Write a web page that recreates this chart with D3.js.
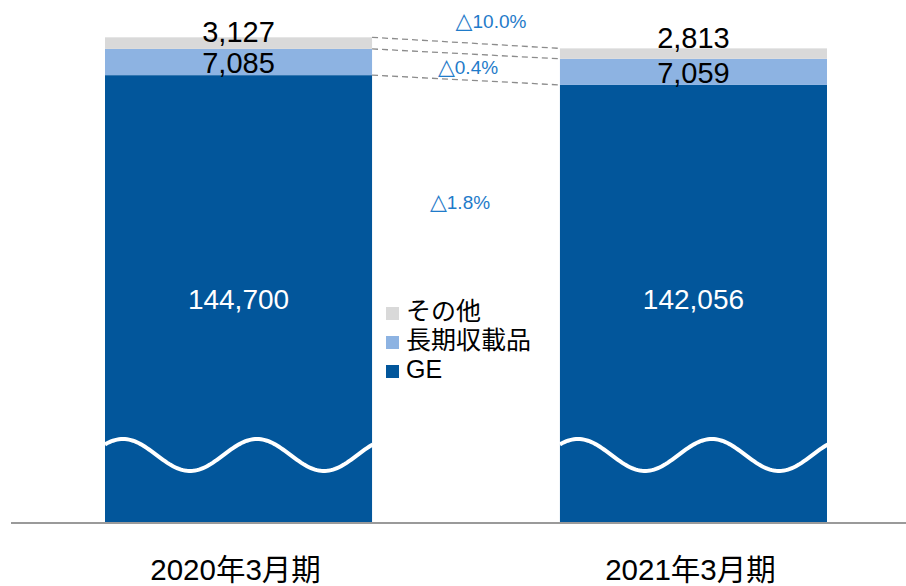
<!DOCTYPE html>
<html>
<head>
<meta charset="utf-8">
<script src="https://cdnjs.cloudflare.com/ajax/libs/d3/7.8.5/d3.min.js"></script>
<style>
  body { margin: 0; background: #fff; }
  text { font-family: "Liberation Sans", Arial, "Noto Sans CJK JP", sans-serif; }
</style>
</head>
<body>
<div id="chart"></div>
<script>
// data
const periods = ["2020年3月期", "2021年3月期"]
const series = ["GE", "長期収載品", "その他"]
const ge_values = [144700, 142056]
const long_listed_values = [7085, 7059]
const other_values = [3127, 2813]
const legend_order = ["その他", "長期収載品", "GE"]

// constants
const width = 906
const height = 586
const baseline = 522
const value_min = 24000   // truncated axis (wave marks the break)
const value_max = 160000
const colors = { "GE": "#02569b", "長期収載品": "#8db3e2", "その他": "#d9d9d9" }
const delta_color = "#1f7bc9"

const svg = d3.select("#chart")
    .append("svg")
        .attr("width", width)
        .attr("height", height);

const x = d3.scaleBand()
    .domain(periods)
    .range([105, 827])
    .paddingInner(0.413)
    .paddingOuter(0);

const y = d3.scaleLinear()
    .domain([value_min, value_max])
    .range([baseline, 18.5]);

// stack
const rows = periods.map((p, i) => ({
    period: p,
    "GE": ge_values[i],
    "長期収載品": long_listed_values[i],
    "その他": other_values[i]
}));
const stacked = d3.stack().keys(series)(rows);

// bars (GE bar starts at the axis floor)
stacked.forEach(layer => {
    svg.append("g")
        .selectAll("rect")
        .data(layer)
        .join("rect")
            .attr("x", d => x(d.data.period))
            .attr("y", d => y(d[1]))
            .attr("width", x.bandwidth())
            .attr("height", d => y(Math.max(d[0], value_min)) - y(d[1]))
            .attr("fill", colors[layer.key]);
});

// break wave
const wave_center = baseline - 67;
const wave_amp = 16;
const wave_period = 134;
const wave_phase = 18;
periods.forEach(p => {
    const x0 = x(p);
    const pts = d3.range(0, x.bandwidth() + 1, 2).map(t =>
        [x0 + t, wave_center - wave_amp * Math.cos(2 * Math.PI * (t - wave_phase) / wave_period)]);
    svg.append("path")
        .attr("d", d3.line()(pts))
        .attr("fill", "none")
        .attr("stroke", "#fff")
        .attr("stroke-width", 4);
});

// axis line
svg.append("line")
    .attr("x1", 11)
    .attr("x2", width)
    .attr("y1", baseline + 1)
    .attr("y2", baseline + 1)
    .attr("stroke", "#9a9a9a")
    .attr("stroke-width", 2);

// dashed connectors between segment tops
const left_edge = x(periods[0]) + x.bandwidth();
const right_edge = x(periods[1]);
stacked.forEach(layer => {
    svg.append("line")
        .attr("x1", left_edge)
        .attr("y1", y(layer[0][1]))
        .attr("x2", right_edge)
        .attr("y2", y(layer[1][1]))
        .attr("stroke", "#8c8c8c")
        .attr("stroke-width", 1.3)
        .attr("stroke-dasharray", "6,4");
});

// value labels
const fmt = d3.format(",");
stacked.forEach(layer => {
    svg.append("g")
        .selectAll("text")
        .data(layer)
        .join("text")
            .attr("x", d => x(d.data.period) + x.bandwidth() / 2)
            .attr("y", d => {
                if (layer.key === "GE") return 309;
                const mid = (y(d[0]) + y(d[1])) / 2;
                return layer.key === "その他" ? (d.data.period === periods[0] ? mid - 1 : mid - 6) : mid + 11;
            })
            .attr("text-anchor", "middle")
            .attr("font-size", layer.key === "GE" ? 28 : 29)
            .attr("fill", layer.key === "GE" ? "#fff" : "#000")
            .text(d => fmt(d.data[layer.key]));
});

// change labels (decline shown with △)
const gap_center = (left_edge + right_edge) / 2;
const delta_pos = {
    "その他": { dx: 25, y: y(stacked[2][0][1]) - 9 },
    "長期収載品": { dx: 2, y: (y(stacked[1][0][1]) + y(stacked[1][1][1]) + y(stacked[0][0][1]) + y(stacked[0][1][1])) / 4 + 7 },
    "GE": { dx: -6, y: 209 }
};
series.forEach((s, i) => {
    const pct = (rows[1][s] - rows[0][s]) / rows[0][s] * 100;
    const t = svg.append("text")
        .attr("x", gap_center + delta_pos[s].dx)
        .attr("y", delta_pos[s].y)
        .attr("text-anchor", "middle")
        .attr("font-size", 19)
        .attr("fill", delta_color);
    if (pct < 0) {
        t.append("tspan")
            .style("font-family", "'DejaVu Sans'")
            .attr("font-size", 22)
            .text("△");
    }
    t.append("tspan").text(Math.abs(pct).toFixed(1) + "%");
});

// legend
const legend = svg.append("g")
    .attr("transform", "translate(386, 320)");
legend_order.forEach((s, i) => {
    legend.append("rect")
        .attr("x", 0)
        .attr("y", i * 29 - 13)
        .attr("width", 13)
        .attr("height", 13)
        .attr("fill", colors[s]);
    legend.append("text")
        .attr("x", 20)
        .attr("y", i * 29)
        .attr("font-size", 25)
        .attr("fill", "#000")
        .text(s);
});

// category labels
svg.append("g")
    .selectAll("text")
    .data(periods)
    .join("text")
        .attr("x", d => x(d) + x.bandwidth() / 2 - 3)
        .attr("y", 580)
        .attr("text-anchor", "middle")
        .attr("font-size", 29.5)
        .attr("fill", "#000")
        .text(d => d);
</script>
</body>
</html>
